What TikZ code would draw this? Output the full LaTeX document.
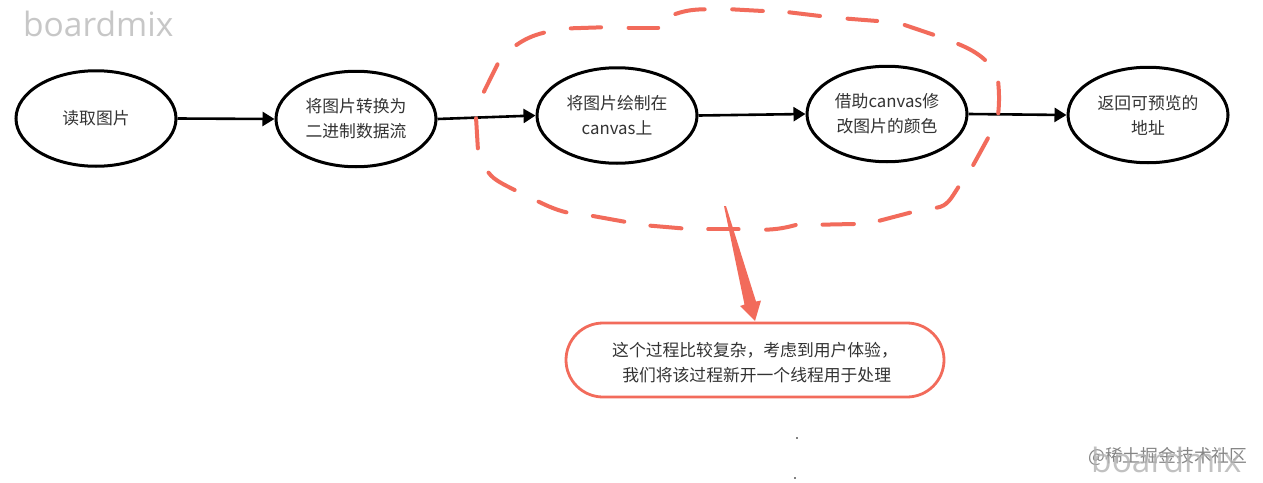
\documentclass[tikz,border=0pt]{standalone}
\usepackage{fontspec}
\setmainfont{Noto Sans CJK SC}
\newfontfamily\markfont{Open Sans}
\usetikzlibrary{arrows.meta,shapes.geometric,calc}
\definecolor{redline}{HTML}{F26B5B}
\definecolor{inktext}{HTML}{333333}
\tikzset{
  flow/.style={draw=black,line width=3pt,ellipse,fill=white,minimum width=160pt,minimum height=95.5pt,inner sep=0pt,align=center,font=\fontsize{16.8pt}{25pt}\selectfont,text=inktext},
  link/.style={draw=black,line width=2.6pt,-{Triangle[length=12pt,width=14pt]}},
  dashpiece/.style={draw=redline,line width=4pt,line cap=round},
  wm/.style={font=\markfont\fontsize{33.5pt}{34pt}\selectfont,inner sep=0pt,anchor=base west},
}
\begin{document}
\begin{tikzpicture}[x=1pt,y=-1pt]
\useasboundingbox (0,0) rectangle (1263,482);
\fill[white] (0,0) rectangle (1263,482);
\node[wm,text=black!22] (wmtop) at (23,36) {boardmix};

\node[flow] (a) at (96,118.5) {读取图片};
\node[flow] (b) at (356,119) {将图片转换为\\二进制数据流};
\node[flow] (c) at (617,115.5) {将图片绘制在\\canvas上};
\node[flow] (d) at (887,114) {借助canvas修\\改图片的颜色};
\node[flow] (e) at (1148,115) {返回可预览的\\地址};

\draw[link] (a.east) -- (b.west);
\draw[link] (b.east) -- (c.west);
\draw[link] (c.east) -- (d.west);
\draw[link] (d.east) -- (e.west);

\begin{scope}[shift={(460,0)},x=0.357143pt,y=-0.333333pt]
\draw[dashpiece] (158,135) .. controls (180,118) and (205,106) .. (235,98);
\draw[dashpiece] (310,85) -- (395,82);
\draw[dashpiece] (472,83) -- (555,83);
\draw[dashpiece] (603,42) .. controls (630,32) and (655,28) .. (685,28);
\draw[dashpiece] (762,28) -- (848,33);
\draw[dashpiece] (922,37) -- (1008,48);
\draw[dashpiece] (1085,56) -- (1168,63);
\draw[dashpiece] (1245,75) -- (1325,104);
\draw[dashpiece] (1395,132) .. controls (1425,145) and (1450,160) .. (1470,180);
\draw[dashpiece] (1507,248) .. controls (1510,280) and (1510,310) .. (1507,340);
\draw[dashpiece] (1478,415) -- (1437,495);
\draw[dashpiece] (1395,562) .. controls (1375,595) and (1365,618) .. (1335,623);
\draw[dashpiece] (1260,638) -- (1175,662);
\draw[dashpiece] (1103,672) -- (1015,674);
\draw[dashpiece] (940,675) .. controls (910,684) and (885,688) .. (857,689);
\draw[dashpiece] (780,688) -- (695,688);
\draw[dashpiece] (620,685) -- (533,677);
\draw[dashpiece] (460,665) -- (372,648);
\draw[dashpiece] (298,637) .. controls (270,630) and (245,618) .. (220,605);
\draw[dashpiece] (153,570) .. controls (120,552) and (95,540) .. (80,518);
\draw[dashpiece] (50,445) -- (45,355);
\draw[dashpiece] (67,275) -- (105,193);
\end{scope}

\node[draw=redline,line width=2.8pt,rounded corners=37pt,fill=white,minimum width=378pt,minimum height=74pt,inner sep=0pt,align=center,font=\fontsize{16.8pt}{25pt}\selectfont,text=inktext] (note) at (755,360) {\rule{0pt}{19pt}这个过程比较复杂，考虑到用户体验，\\\hspace*{0.2em}我们将该过程新开一个线程用于处理};

\coordinate (tail) at (724,206);
\fill[redline] (tail) -- (726,206) -- (756,301.5) -- (761,300.5) -- (755,321) -- (740,306) -- (744.5,304.5) -- cycle;

\fill[black] (797,438) circle (0.8pt);
\fill[black] (795,478) circle (0.8pt);

\node[inner sep=0pt,anchor=base west,text=black!48,font=\fontsize{17.8pt}{20pt}\selectfont] (wmjj) at (1088,462) {@稀土掘金技术社区};
\node[wm,text=black!30,opacity=0.8] (wmbot) at (1091,472) {boardmix};
\end{tikzpicture}
\end{document}
